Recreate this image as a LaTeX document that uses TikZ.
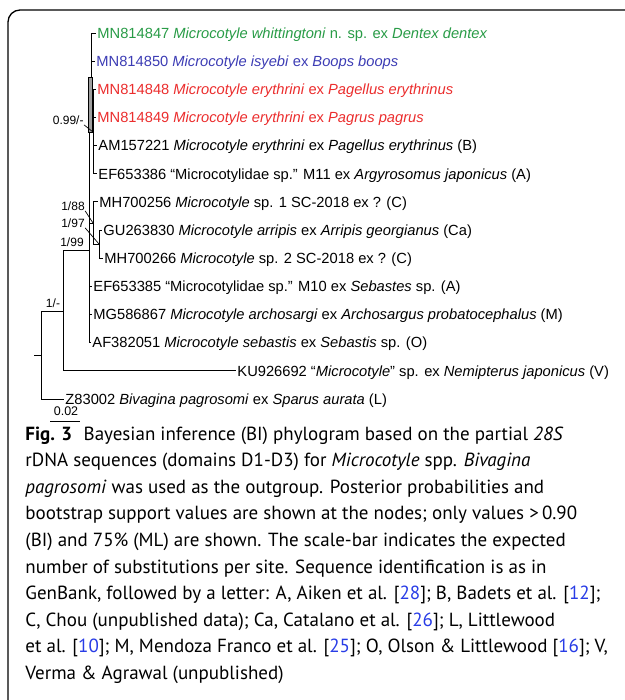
\documentclass[tikz,border=0pt]{standalone}
\usepackage{fontspec}
\setmainfont{PT Sans}
\newfontfamily\treefont{Liberation Sans}
\definecolor{treegreen}{RGB}{40,155,70}
\definecolor{treeblue}{RGB}{60,60,180}
\definecolor{treered}{RGB}{235,45,45}
\definecolor{citeblue}{RGB}{40,60,230}
\newcommand{\refno}[1]{[\textcolor{citeblue}{#1}]}
\begin{document}
\begin{tikzpicture}[x=1pt, y=-1pt, line width=0.9pt,
        leaf/.style = {anchor=west, inner xsep=1pt, inner ysep=0pt, text height=10.5pt, text depth=0pt, font=\treefont\fontsize{14.7}{18}\selectfont},
        supp/.style = {inner sep=0pt, font=\treefont\fontsize{12}{14}\selectfont},
        capline/.style = {anchor=base west, inner sep=0pt, font=\fontsize{19}{26.6}\selectfont}]
            \useasboundingbox (0,0) rectangle (624,700);
            \draw[line width=1.3pt, rounded corners=12pt] (8,712) -- (8,10) -- (640,10);

            \node[leaf, text=treegreen] (l1) at (96,33.0)  {MN814847 \textit{Microcotyle whittingtoni} n. sp. ex \textit{Dentex dentex}};
            \node[leaf, text=treeblue]  (l2) at (95,61.2)  {MN814850 \textit{Microcotyle isyebi} ex \textit{Boops boops}};
            \node[leaf, text=treered]   (l3) at (96,89.3)  {MN814848 \textit{Microcotyle erythrini} ex \textit{Pagellus erythrinus}};
            \node[leaf, text=treered]   (l4) at (96,117.5) {MN814849 \textit{Microcotyle erythrini} ex \textit{Pagrus pagrus}};
            \node[leaf] (l5)  at (97,145.6)  {AM157221 \textit{Microcotyle erythrini} ex \textit{Pagellus erythrinus} (B)};
            \node[leaf] (l6)  at (97,173.8)  {EF653386 “Microcotylidae sp.” M11 ex \textit{Argyrosomus japonicus} (A)};
            \node[leaf] (l7)  at (98,201.9)  {MH700256 \textit{Microcotyle} sp. 1 SC-2018 ex ? (C)};
            \node[leaf] (l8)  at (102,230.0) {GU263830 \textit{Microcotyle arripis} ex \textit{Arripis georgianus} (Ca)};
            \node[leaf] (l9)  at (103,258.2) {MH700266 \textit{Microcotyle} sp. 2 SC-2018 ex ? (C)};
            \node[leaf] (l10) at (92,286.3)  {EF653385 “Microcotylidae sp.” M10 ex \textit{Sebastes} sp. (A)};
            \node[leaf] (l11) at (92,314.5)  {MG586867 \textit{Microcotyle archosargi} ex \textit{Archosargus probatocephalus} (M)};
            \node[leaf] (l12) at (91,342.6)  {AF382051 \textit{Microcotyle sebastis} ex \textit{Sebastis} sp. (O)};
            \node[leaf] (l13) at (236,370.8) {KU926692 “\textit{Microcotyle}” sp. ex \textit{Nemipterus japonicus} (V)};
            \node[leaf] (l14) at (64,399.0)  {Z83002 \textit{Bivagina pagrosomi} ex \textit{Sparus aurata} (L)};

            \coordinate (stub) at (34,355);
            \coordinate (r)  at (41,355);
            \coordinate (n1) at (63,311);
            \coordinate (n2) at (89,250);
            \coordinate (n3) at (89,132);
            \coordinate (n4) at (91,77);
            \coordinate (n5) at (93,132);
            \coordinate (n6) at (93,223);
            \coordinate (n7) at (99,244);

            \draw (stub) -- (r);
            \draw (r) |- (n1);
            \draw (r) |- (l14.west);
            \draw (n1) |- (n2);
            \draw (n1) |- (l13.west);
            \draw (n2) -- (n3);
            \foreach \k in {10,11,12}
                \draw (n2) |- (l\k.west);
            \draw (n2) |- (n6);
            \draw (n6) |- (l7.west);
            \draw (n6) |- (n7);
            \draw (n7) |- (l8.west);
            \draw (n7) |- (l9.west);
            \draw (n3) -- (n5);
            \foreach \k in {3,4,5,6}
                \draw (n5) |- (l\k.west);
            \draw (n4) |- (l1.west);
            \draw (n4) |- (l2.west);
            \draw[fill=gray!75, line width=0.6pt] (88,77) rectangle (92,132);

            \node[supp, anchor=east] (s1) at (84,120) {0.99/-};
            \node[supp] (s2) at (73,206) {1/88};
            \node[supp] (s3) at (73,223) {1/97};
            \node[supp] (s4) at (72,242) {1/99};
            \node[supp] (s5) at (53,303) {1/-};
            \draw[line width=0.7pt] (s1.south east) -- (n5);
            \draw[line width=0.7pt] (s2.south east) -- (n6);
            \draw[line width=0.7pt] (s3.south east) -- (n7);

            \node[supp, font=\treefont\fontsize{12.5}{14}\selectfont] (sb) at (66,411) {0.02};
            \coordinate (sbl) at (50,421);
            \coordinate (sbr) at (80,421);
            \draw (sbl) -- (sbr);

            \foreach \t [count=\i] in {
                {\textbf{Fig. 3}\hspace{0.6em}Bayesian inference (BI) phylogram based on the partial \textit{28S}},
                {rDNA sequences (domains D1-D3) for \textit{Microcotyle} spp. \textit{Bivagina}},
                {\textit{pagrosomi} was used as the outgroup. Posterior probabilities and},
                {bootstrap support values are shown at the nodes; only values >\,0.90},
                {(BI) and 75\% (ML) are shown. The scale-bar indicates the expected},
                {number of substitutions per site. Sequence identification is as in},
                {GenBank, followed by a letter: A, Aiken et al. \refno{28}; B, Badets et al. \refno{12};},
                {C, Chou (unpublished data); Ca, Catalano et al. \refno{26}; L, Littlewood},
                {et al. \refno{10}; M, Mendoza Franco et al. \refno{25}; O, Olson \& Littlewood \refno{16}; V,},
                {Verma \& Agrawal (unpublished)}}
                \node[capline] (c\i) at (25,{440+26.6*(\i-1)}) {\t};
        \end{tikzpicture}
\end{document}
